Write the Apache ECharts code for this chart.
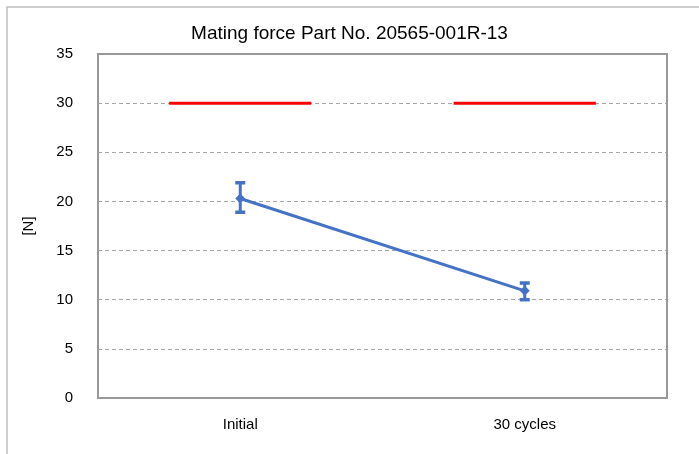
<!DOCTYPE html>
<html>
<head>
<meta charset="utf-8">
<script src="https://cdn.jsdelivr.net/npm/echarts@6/dist/echarts.min.js"></script>
<style>
  html, body { margin: 0; padding: 0; background: #fff; }
  #chart { width: 699px; height: 454px; }
</style>
</head>
<body>
<div id="chart"></div>
<script>
// chart data
const categories = ['Initial', '30 cycles'];
const meanForce = [20.3, 10.9];
const maxForce = [21.9, 11.7];
const minForce = [18.9, 10.0];
const specLimit = [30, 30];
const yTicks = { min: 0, max: 35, interval: 5 };

const FONT = '"Liberation Sans Narrow", "Liberation Sans", Arial, sans-serif';
const BLUE = '#4472C4';

let chart = echarts.init(document.getElementById('chart'));

// error bars: vertical line + thick caps, positioned with api.coord
function renderErrorBar(params, api) {
    let idx = api.value(0);
    let hi = api.coord([idx, api.value(1)]);
    let lo = api.coord([idx, api.value(2)]);
    let capW = 5;
    return {
        type: 'group',
        children: [
            { type: 'line', shape: { x1: hi[0], y1: hi[1], x2: lo[0], y2: lo[1] },
              style: { stroke: BLUE, lineWidth: 3 } },
            { type: 'line', shape: { x1: hi[0] - capW, y1: hi[1], x2: hi[0] + capW, y2: hi[1] },
              style: { stroke: BLUE, lineWidth: 3.5 } },
            { type: 'line', shape: { x1: lo[0] - capW, y1: lo[1], x2: lo[0] + capW, y2: lo[1] },
              style: { stroke: BLUE, lineWidth: 3.5 } }
        ]
    };
}

// red spec line: half a category wide, centred on the category
function renderSpec(params, api) {
    let idx = api.value(0);
    let c = api.coord([idx, api.value(1)]);
    let w = api.size([1, 0])[0] * 0.5;
    return {
        type: 'line',
        shape: { x1: c[0] - w / 2, y1: c[1], x2: c[0] + w / 2, y2: c[1] },
        style: { stroke: '#FF0000', lineWidth: 3 }
    };
}

chart.setOption({
    animation: false,
    backgroundColor: '#fff',
    title: {
        text: 'Mating force Part No. 20565-001R-13',
        left: 'center',
        top: 19,
        textStyle: { fontFamily: FONT, fontSize: 19, fontWeight: 'normal', color: '#000' }
    },
    graphic: [{
        type: 'rect',
        shape: { x: 7, y: 7, width: 720, height: 470 },
        style: { fill: 'none', stroke: '#BFBFBF', lineWidth: 1.5 },
        silent: true
    }, {
        type: 'rect',
        shape: { x: 98, y: 54, width: 569, height: 344 },
        style: { fill: 'none', stroke: '#999', lineWidth: 2 },
        silent: true,
        z: 10
    }],
    grid: { left: 98, right: 32, top: 54, bottom: 56 },
    xAxis: {
        type: 'category',
        data: categories,
        boundaryGap: true,
        axisLine: { show: false },
        axisTick: { show: false },
        axisLabel: { fontFamily: FONT, fontSize: 15, color: '#000', margin: 19 }
    },
    yAxis: {
        type: 'value',
        min: yTicks.min,
        max: yTicks.max,
        interval: yTicks.interval,
        name: '[N]',
        nameLocation: 'middle',
        nameGap: 62,
        nameTextStyle: { fontFamily: FONT, fontSize: 15, color: '#000' },
        axisLine: { show: false },
        axisTick: { show: false },
        axisLabel: { fontFamily: FONT, fontSize: 15, color: '#000', margin: 25 },
        splitLine: { lineStyle: { type: [4, 3], color: '#A6A6A6', width: 1 } }
    },
    series: [
        {
            type: 'custom',
            renderItem: renderSpec,
            data: categories.map((c, i) => [i, specLimit[i]]),
            z: 3
        },
        {
            type: 'line',
            data: meanForce,
            symbol: 'diamond',
            symbolSize: 10,
            lineStyle: { color: BLUE, width: 3 },
            itemStyle: { color: BLUE },
            z: 4
        },
        {
            type: 'custom',
            renderItem: renderErrorBar,
            data: categories.map((c, i) => [i, maxForce[i], minForce[i]]),
            z: 5
        }
    ]
});
</script>
</body>
</html>
